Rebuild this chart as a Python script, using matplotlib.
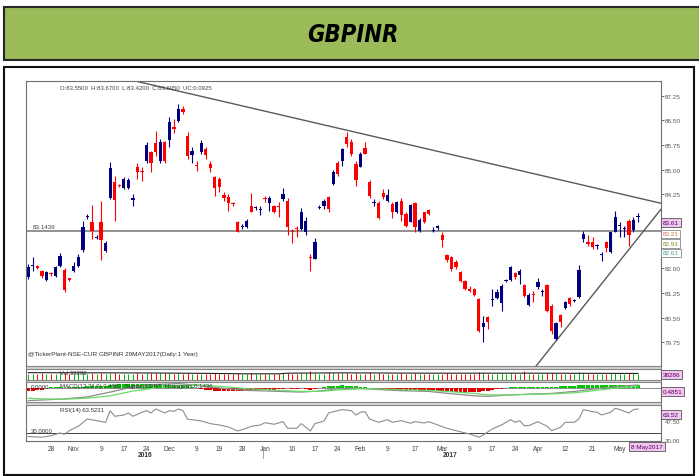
import matplotlib
matplotlib.use("Agg")
import matplotlib.pyplot as plt
from matplotlib.patches import Rectangle
import numpy as np

# ---------------- data ----------------
opens = [81.73, 82.08, 82.08, 81.93, 81.65, 81.84, 81.77, 82.08, 81.95, 81.70,
         81.93, 82.08, 82.57, 83.55, 83.42, 82.91, 83.40, 82.54, 84.13, 84.64,
         84.53, 84.44, 84.44, 84.09, 85.07, 84.95, 85.27, 85.53, 85.80, 85.27,
         85.83, 85.90, 86.29, 86.49, 86.85, 86.02, 85.45, 85.14, 85.53, 85.63,
         85.17, 84.77, 84.72, 84.23, 84.18, 83.98, 83.42, 83.26, 83.25, 83.89,
         83.83, 83.77, 84.14, 83.99, 83.89, 83.90, 84.11, 84.06, 83.14, 83.22,
         83.20, 83.12, 82.36, 82.30, 83.85, 83.89, 84.18, 84.57, 85.22, 85.27,
         85.99, 85.85, 85.17, 85.08, 85.67, 84.64, 83.99, 83.99, 84.29, 84.06,
         83.96, 83.71, 84.06, 83.65, 83.42, 83.98, 83.14, 83.71, 83.78, 83.15,
         83.24, 83.00, 82.41, 82.34, 82.20, 81.88, 81.63, 81.37, 81.37, 81.07,
         80.21, 80.51, 81.03, 81.09, 80.95, 81.62, 81.65, 81.86, 81.80, 81.50,
         80.89, 81.21, 81.43, 81.27, 81.50, 80.87, 79.85, 80.58, 80.79, 81.09,
         81.00, 81.12, 82.89, 82.81, 82.79, 82.67, 82.40, 82.79, 82.49, 83.12,
         83.30, 83.20, 83.45, 83.18, 83.55]
highs = [82.13, 82.34, 82.10, 81.96, 81.92, 81.88, 82.08, 82.47, 82.00, 81.72,
         82.18, 82.44, 83.45, 83.65, 83.93, 83.00, 84.06, 82.84, 85.24, 84.82,
         84.56, 84.77, 84.74, 84.26, 85.22, 85.07, 85.83, 85.58, 86.19, 85.93,
         85.88, 86.59, 86.54, 87.00, 86.93, 86.14, 85.68, 85.27, 85.90, 85.68,
         85.27, 84.82, 84.77, 84.33, 84.26, 84.03, 83.45, 83.35, 83.50, 84.28,
         83.91, 83.91, 84.21, 84.21, 83.93, 84.01, 84.44, 84.13, 83.20, 83.30,
         83.83, 83.55, 82.44, 82.91, 83.93, 84.11, 84.21, 85.00, 85.27, 85.67,
         86.14, 85.93, 85.27, 85.54, 85.84, 84.70, 84.11, 84.06, 84.41, 84.41,
         84.01, 84.06, 84.13, 83.71, 83.96, 84.01, 83.52, 83.72, 83.80, 83.25,
         83.32, 83.10, 82.44, 82.39, 82.24, 81.93, 81.66, 81.47, 81.40, 81.09,
         80.56, 80.56, 81.37, 81.37, 81.53, 81.68, 82.08, 81.90, 81.98, 81.53,
         81.25, 81.32, 81.70, 81.37, 81.53, 80.92, 80.36, 80.61, 81.02, 81.12,
         81.07, 82.10, 83.15, 83.00, 82.94, 82.74, 82.49, 82.84, 83.12, 83.75,
         83.40, 83.30, 83.50, 83.55, 83.67]
lows = [81.68, 81.93, 81.98, 81.72, 81.62, 81.78, 81.74, 82.04, 81.27, 81.62,
        81.88, 82.03, 82.49, 83.50, 82.89, 82.88, 82.26, 82.49, 84.11, 83.45,
        84.48, 84.41, 84.40, 83.89, 84.72, 84.66, 85.22, 84.92, 85.43, 85.22,
        85.21, 85.68, 86.13, 86.44, 86.70, 85.33, 85.22, 84.97, 85.48, 85.33,
        84.92, 84.21, 84.31, 84.06, 83.75, 83.89, 83.10, 83.20, 83.22, 83.71,
        83.78, 83.63, 84.01, 83.75, 83.68, 83.55, 84.06, 83.00, 82.78, 82.95,
        83.17, 83.00, 81.93, 82.28, 83.81, 83.81, 83.71, 84.54, 84.82, 85.12,
        85.68, 85.43, 84.51, 85.07, 85.47, 84.13, 83.89, 83.50, 84.11, 84.01,
        83.52, 83.68, 83.45, 83.25, 83.40, 83.12, 83.12, 83.38, 83.62, 83.10,
        83.18, 82.64, 82.19, 81.93, 81.99, 81.58, 81.34, 81.27, 81.16, 80.05,
        79.75, 80.16, 80.87, 81.07, 80.71, 81.60, 81.63, 81.68, 81.52, 81.12,
        80.87, 80.97, 81.37, 81.17, 80.66, 79.99, 79.83, 80.21, 80.77, 80.87,
        80.97, 81.09, 82.79, 82.68, 82.59, 82.59, 82.21, 82.49, 82.47, 83.10,
        82.95, 82.95, 82.69, 83.10, 83.42]
closes = [82.03, 82.11, 82.00, 81.76, 81.88, 81.82, 82.03, 82.37, 81.35, 81.65,
          82.08, 82.36, 83.25, 83.60, 83.15, 82.96, 82.87, 82.76, 85.04, 84.09,
          84.50, 84.72, 84.69, 84.13, 84.92, 84.92, 85.75, 85.21, 85.55, 85.85,
          85.26, 86.46, 86.24, 86.85, 86.77, 85.41, 85.58, 85.12, 85.80, 85.45,
          85.05, 84.44, 84.47, 84.14, 83.99, 83.95, 83.12, 83.29, 83.45, 83.72,
          83.86, 83.80, 84.11, 84.14, 83.72, 83.87, 84.26, 83.25, 83.11, 83.19,
          83.71, 83.45, 82.32, 82.79, 83.88, 84.06, 83.81, 84.94, 84.86, 85.62,
          85.78, 85.49, 84.69, 85.47, 85.49, 84.21, 84.02, 83.54, 84.16, 84.23,
          83.71, 84.03, 83.62, 83.30, 83.93, 83.27, 83.47, 83.42, 83.65, 83.18,
          83.28, 82.87, 82.24, 81.98, 82.03, 81.63, 81.37, 81.32, 81.19, 80.10,
          80.34, 80.38, 81.06, 81.27, 81.46, 81.64, 82.03, 81.73, 81.93, 81.17,
          81.20, 81.18, 81.60, 81.30, 80.71, 80.08, 80.34, 80.38, 80.99, 80.92,
          81.03, 81.96, 83.05, 82.74, 82.64, 82.70, 82.43, 82.62, 83.10, 83.55,
          83.33, 83.23, 83.02, 83.48, 83.605]
unchanged = 0.0925

volume = [38000, 37000, 36500, 38500, 37000, 36000, 38000, 39000, 40000, 37000,
          38000, 39000, 41000, 37000, 39000, 36000, 42000, 37000, 43000, 40000,
          36000, 37000, 37500, 38000, 39000, 36500, 40000, 39000, 41000, 40000,
          39000, 41000, 37000, 40000, 37000, 42000, 38000, 36000, 38000, 37000,
          38000, 39000, 38000, 37000, 38000, 36000, 39000, 36000, 37000, 39000,
          36000, 36500, 37000, 38000, 37000, 38000, 39000, 41000, 37000, 36000,
          39000, 40000, 52000, 41000, 37000, 38000, 46000, 41000, 40000, 39000,
          40000, 38000, 41000, 38000, 37000, 46000, 37000, 39000, 37000, 37500,
          38000, 37000, 39000, 38000, 38000, 40000, 37000, 37000, 37000, 36500,
          37000, 38000, 39000, 38000, 37000, 38000, 38000, 37000, 38000, 45000,
          41000, 38000, 38000, 37000, 40000, 36000, 39000, 38000, 38000, 52000,
          38000, 37000, 38000, 36500, 40000, 42000, 40000, 38000, 38000, 37000,
          37000, 50000, 44000, 38000, 38000, 37000, 38000, 38000, 40000, 42000,
          38000, 37000, 40000, 39000, 38286]
oi_idx = [0, 27, 41, 48, 55, 57, 69, 75, 88, 110, 134]
oi_val = [43300, 41600, 38700, 36500, 36500, 40400, 42200, 41600, 40400, 40400, 38700]

macd_idx = [0, 3, 8, 13, 18, 23, 28, 33, 37, 42, 48, 55, 60, 64, 68, 72, 76,
            82, 88, 93, 98, 101, 105, 110, 115, 120, 125, 130, 134]
macd_val = [-1.80, -1.72, -1.55, -1.25, -0.55, 0.20, 0.55, 0.70, 0.45, 0.05,
            -0.30, -0.45, -0.55, -0.40, -0.05, 0.05, -0.15, -0.35, -0.45, -0.80,
            -1.10, -1.18, -1.00, -0.85, -0.75, -0.45, -0.05, 0.30, 0.4851]
signal_val = [-1.45, -1.55, -1.60, -1.45, -1.10, -0.40, 0.05, 0.40, 0.50, 0.30,
              -0.05, -0.30, -0.45, -0.45, -0.25, -0.10, -0.05, -0.20, -0.30, -0.50,
              -0.75, -0.95, -0.98, -0.90, -0.82, -0.65, -0.30, 0.10, 0.3415]
hist = ([-0.40, -0.38, -0.30, -0.22]
        + [0.12, 0.15, 0.18, 0.15, 0.12, 0.15, 0.2, 0.22, 0.25, 0.3, 0.3, 0.35, 0.35, 0.4, 0.5, 0.55, 0.6]
        + [0.65, 0.65, 0.6, 0.65, 0.7, 0.7, 0.65, 0.6, 0.6, 0.55, 0.55, 0.5, 0.5, 0.4, 0.3, 0.2, 0.1]
        + [-0.1, -0.2, -0.3, -0.38, -0.42, -0.45, -0.45, -0.42, -0.42, -0.4, -0.38, -0.35, -0.3, -0.3,
           -0.25, -0.22, -0.2, -0.15]
        + [-0.1, 0.08, -0.12, -0.15, 0.1, -0.15, -0.2, -0.1, 0.1, 0.2]
        + [0.3, 0.35, 0.4, 0.42, 0.4, 0.38, 0.3, 0.25, 0.15, 0.05]
        + [-0.1, -0.2, -0.25, -0.3, -0.3, -0.32, -0.35, -0.35, -0.3, -0.3, -0.32, -0.35, -0.35, -0.38,
           -0.4, -0.45, -0.5, -0.55, -0.6, -0.6, -0.62, -0.6, -0.55, -0.5, -0.45, -0.35, -0.25, -0.15, -0.05]
        + [0.1, 0.15, 0.15, 0.18, 0.2, 0.2, 0.2, 0.18, 0.2, 0.22, 0.2, 0.25, 0.3, 0.3, 0.35, 0.4, 0.45,
           0.5, 0.55, 0.55, 0.55, 0.5, 0.5, 0.48, 0.48, 0.45, 0.45, 0.42, 0.42, 0.42])

rsi_idx = [0, 3, 5, 7, 8, 9, 11, 13, 15, 17, 18, 19, 21, 22, 23, 25, 26, 27, 28, 30,
           31, 32, 33, 34, 35, 37, 38, 40, 42, 44, 46, 48, 49, 51, 52, 54, 56, 57, 59, 60,
           62, 63, 65, 66, 68, 69, 71, 72, 73, 74, 75, 77, 79, 80, 82, 84, 85, 87, 88, 90,
           92, 94, 96, 97, 99, 100, 102, 104, 106, 107, 108, 109, 110, 112, 114, 115, 117, 118, 120, 121,
           122, 124, 125, 126, 128, 129, 130, 132, 133, 134]
rsi_val = [25.5, 24.5, 26.7, 30.4, 28.6, 33.6, 39.7, 49.7, 47.4, 45.1, 61.2, 53.4, 55.2, 58.0, 53.4, 59.0, 61.2, 58.0, 63.5, 58.0,
           61.2, 60.2, 63.5, 61.2, 49.3, 47.9, 47.0, 43.3, 41.4, 38.7, 33.2, 36.9, 39.7, 41.4, 44.6, 42.4, 46.0, 36.9, 36.9, 43.3,
           33.2, 43.3, 47.0, 58.0, 61.2, 62.6, 61.2, 55.2, 59.0, 59.8, 49.7, 45.1, 48.8, 45.1, 47.4, 43.8, 46.0, 44.2, 46.0, 41.4,
           36.8, 33.6, 30.4, 29.0, 24.5, 27.7, 36.0, 41.4, 48.8, 45.1, 47.4, 40.5, 40.5, 46.0, 39.7, 33.6, 38.3, 45.1, 45.1, 49.7,
           62.6, 59.8, 59.0, 55.2, 59.0, 64.5, 62.6, 58.0, 62.6, 63.52]
rsi_last = 63.5231

support_level = 83.1439
upper_trend = [(23.5, 87.70), (139.05, 83.98)]
lower_trend = [(111.6, 79.03), (139.05, 83.80)]

tick_idx = [5, 10, 16, 21, 26, 31, 37, 42, 47, 52, 58, 63, 68, 73, 79, 85, 91, 97, 102, 107, 112, 118, 124, 130]
tick_lab = ['28', 'Nov', '9', '17', '24', 'Dec', '9', '19', '28', 'Jan', '10', '17', '24', 'Feb', '9', '17',
            'Mar', '9', '17', '24', 'Apr', '12', '21', 'May']
price_ticks = [87.25, 86.50, 85.75, 85.00, 84.25, 82.00, 81.25, 80.50, 79.75]

# ---------------- layout ----------------
W, H = 699, 477
fig = plt.figure(figsize=(W / 100, H / 100), dpi=100)
fig.patch.set_facecolor('white')
SMALL = 'Liberation Sans'


def fx(x):
    return x / W


def fy(y):
    return 1 - y / H


def box(x0, y0, x1, y1):
    return [fx(x0), fy(y1), fx(x1) - fx(x0), fy(y0) - fy(y1)]


def frect(x0, y0, x1, y1, **kw):
    r = Rectangle((fx(x0), fy(y1)), fx(x1) - fx(x0), fy(y0) - fy(y1), transform=fig.transFigure, **kw)
    fig.patches.append(r)
    return r


# banner
frect(4, 8, 702, 61, facecolor='#9BBB59', edgecolor='#262626', lw=1.5)
fig.text(0.505, fy(34.5), 'GBPINR', ha='center', va='center', fontsize=17,
         fontweight='bold', fontstyle='oblique', fontstretch='condensed',
         family=['DejaVu Sans'], color='black')
# frame
frect(4, 68, 694, 476, facecolor='none', edgecolor='#111111', lw=1.5)

# separators between panels
for (a, b) in [(367, 370), (381, 383), (403, 406)]:
    frect(26, a, 661, b, facecolor='#D0D0D0', edgecolor='#808080', lw=0.6)

ax_p = fig.add_axes(box(26, 82, 661, 367))
ax_v = fig.add_axes(box(26, 370, 661, 381))
ax_m = fig.add_axes(box(26, 383, 661, 403))
ax_r = fig.add_axes(box(26, 406, 661, 441.5))

XL = (-0.5, 139.05)
for ax in (ax_p, ax_v, ax_m, ax_r):
    ax.set_xlim(*XL)
    for s in ax.spines.values():
        s.set_color('#6E6E6E')
        s.set_linewidth(0.8)
    ax.set_xticks([])
    ax.tick_params(axis='y', left=False, labelleft=False)

# ---------------- price ----------------
n = len(opens)
x = np.arange(n)
o = np.array(opens); h = np.array(highs); l = np.array(lows); c = np.array(closes)
up = c >= o
cols = np.where(up, '#00007F', '#FF0000')
ax_p.vlines(x, l, h, colors=cols, lw=0.8, zorder=3)
body_lo = np.minimum(o, c)
body_h = np.maximum(np.abs(c - o), 0.025)
ax_p.bar(x, body_h, bottom=body_lo, width=0.72, color=cols, zorder=4, linewidth=0)
ax_p.set_ylim(79.03, 87.70)
ax_p.axhline(support_level, color='#7F7F7F', lw=1.2, zorder=2)
ax_p.plot([p[0] for p in upper_trend], [p[1] for p in upper_trend], color='#595959', lw=1.0, zorder=2)
ax_p.plot([p[0] for p in lower_trend], [p[1] for p in lower_trend], color='#595959', lw=1.0, zorder=2)
ax_p.yaxis.tick_right()
ax_p.set_yticks(price_ticks)
ax_p.set_yticklabels(['%.2f' % v for v in price_ticks], fontsize=4.6, color='#555555', family=SMALL)
ax_p.tick_params(axis='y', right=True, labelright=True, length=2, width=0.6, color='#555555', pad=1)
ax_p.text(0.011, support_level + 0.05, '%.4f' % support_level, transform=ax_p.get_yaxis_transform(),
          fontsize=4.5, color='#444444', family=SMALL, va='bottom', ha='left')
ax_p.text(0.053, 0.985, 'O:%.4f  H:%.4f  L:%.4f  C:%.4f  UC:%.4f' % (opens[-1], highs[-1], lows[-1],
                                                                    closes[-1], unchanged),
          transform=ax_p.transAxes, fontsize=4.3, color='#444444', family=SMALL, va='top', ha='left')
ax_p.text(0.003, 0.035, '@TickerPlant-NSE-CUR GBPINR 29MAY2017(Daily:1 Year)', transform=ax_p.transAxes,
          fontsize=4.6, color='#333333', family=SMALL, va='bottom', ha='left')


# right value boxes
def vbox(xp, yp, txt, fc, ec, tc):
    fig.text(fx(xp), fy(yp), txt, fontsize=4.6, family=SMALL, color=tc, ha='left', va='center',
             bbox=dict(boxstyle='square,pad=0.25', fc=fc, ec=ec, lw=0.6), zorder=10)


vbox(663, 223.5, '%.2f' % closes[-1], '#F2C6F0', '#555555', '#55005A')
vbox(663, 235, '83.21', 'white', '#888888', '#E07050')
vbox(663, 244.5, '82.93', 'white', '#888888', '#8A8A20')
vbox(663, 254, '82.61', 'white', '#888888', '#4A9A9A')

# ---------------- volume ----------------
vcols = np.where(up, '#00B400', '#FF0000')
ax_v.vlines(x, 0, volume, colors=vcols, lw=0.7)
ax_v.plot(oi_idx, oi_val, color='#202020', lw=0.8)
ax_v.set_ylim(0, 65000)
ax_v.text(0.053, 0.93, 'Vol %d' % volume[-1], transform=ax_v.transAxes, fontsize=4.3, color='#333333',
          family=SMALL, va='top', ha='left')
vbox(663, 375.5, '%d' % volume[-1], '#F2C6F0', '#555555', '#55005A')

# ---------------- MACD ----------------
hcols = ['#00C800' if v >= 0 else '#E00000' for v in hist]
ax_m.bar(x, hist, width=0.85, color=hcols, linewidth=0, zorder=2)
ax_m.axhline(0, color='#606060', lw=0.5, zorder=1)
ax_m.plot(macd_idx, macd_val, color='#8C8C8C', lw=0.9, zorder=3)
ax_m.plot(macd_idx, signal_val, color='#66DD66', lw=0.9, zorder=3)
ax_m.set_ylim(-2.01, 0.93)
ax_m.text(0.008, 0.90, '0.0000', transform=ax_m.transAxes, fontsize=4.3, color='#333333', family=SMALL,
          va='top', ha='left')
ax_m.text(0.053, 0.93, 'MACD(12,26,9) %.4f  Signal %.4f  Histogram %.4f' % (macd_val[-1], signal_val[-1],
                                                                           macd_val[-1] - signal_val[-1]),
          transform=ax_m.transAxes, fontsize=4.3, color='#333333', family=SMALL, va='top', ha='left')
vbox(663, 392.5, '%.4f' % macd_val[-1], '#F2C6F0', '#555555', '#55005A')

# ---------------- RSI ----------------
ax_r.plot(rsi_idx, rsi_val, color='#8C8C8C', lw=0.8, zorder=3)
ax_r.axhline(30, color='#404040', lw=0.7, zorder=2)
ax_r.set_ylim(20, 69)
ax_r.yaxis.tick_right()
ax_r.set_yticks([47.5, 20])
ax_r.set_yticklabels(['47.50', '20.00'], fontsize=4.4, color='#555555', family=SMALL)
ax_r.tick_params(axis='y', right=True, labelright=True, length=0, pad=3)
ax_r.text(0.008, 30.6, '30.0000', transform=ax_r.get_yaxis_transform(), fontsize=4.3, color='#333333',
          family=SMALL, va='bottom', ha='left')
ax_r.text(0.053, 0.93, 'RSI(14) %.4f' % rsi_last, transform=ax_r.transAxes, fontsize=4.3, color='#333333',
          family=SMALL, va='top', ha='left')
vbox(663, 415.5, '%.2f' % rsi_val[-1], '#F2C6F0', '#555555', '#55005A')

ax_r.set_xticks(tick_idx)
ax_r.set_xticklabels(tick_lab, fontsize=4.8, color='#444444', family=SMALL)
ax_r.tick_params(axis='x', length=0, pad=3)
fig.text(fx(145), fy(455.5), '2016', fontsize=4.8, color='#333333', family=SMALL, ha='center', va='center',
         fontweight='bold')
fig.text(fx(450), fy(455.5), '2017', fontsize=4.8, color='#333333', family=SMALL, ha='center', va='center',
         fontweight='bold')
fig.lines.append(plt.Line2D([fx(263), fx(263)], [fy(449), fy(459)], transform=fig.transFigure,
                            color='#999999', lw=0.6))
fig.text(fx(631), fy(447.5), '8 May2017', fontsize=4.6, family=SMALL, color='#55005A', ha='left',
         va='center', bbox=dict(boxstyle='square,pad=0.3', fc='#F2C6F0', ec='#555555', lw=0.6))

fig.savefig('out.png', dpi=100)
